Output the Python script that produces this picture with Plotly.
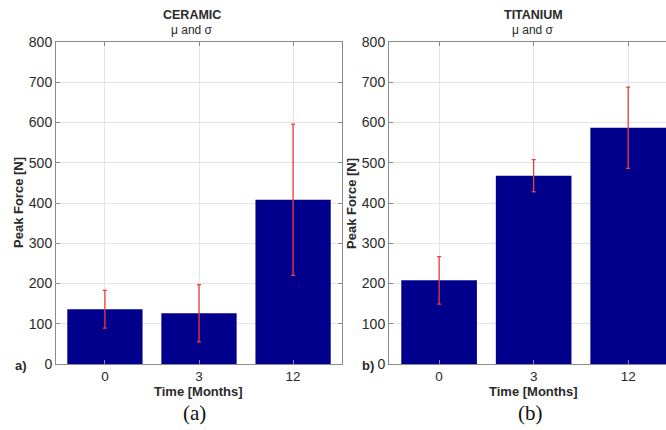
import plotly.graph_objects as go

# ---- data ----
months = ["0", "3", "12"]
ceramic_mean = [136, 126, 408]
ceramic_std = [47, 71, 188]
titanium_mean = [208, 468, 587]
titanium_std = [59, 40, 101]
y_ticks = [0, 100, 200, 300, 400, 500, 600, 700, 800]

W, H = 666, 430
BAR = "#00008C"
ERR = "#F03C3C"
GRID = "#E3E3E3"
AX = "#8A8A8A"
TXT = "#2A2A2A"


def px(x):
    return x / W


def py(y):
    return 1 - y / H


fig = go.Figure()
fig.add_trace(go.Bar(
    x=months, y=ceramic_mean, width=0.8, marker=dict(color=BAR, line=dict(width=0)),
    error_y=dict(type="data", array=ceramic_std, color=ERR, thickness=1.3, width=2),
    xaxis="x", yaxis="y", showlegend=False))
fig.add_trace(go.Bar(
    x=months, y=titanium_mean, width=0.8, marker=dict(color=BAR, line=dict(width=0)),
    error_y=dict(type="data", array=titanium_std, color=ERR, thickness=1.3, width=2),
    xaxis="x2", yaxis="y2", showlegend=False))

ydom = [py(364), py(42)]
tickfont = dict(family="Liberation Sans, Arial", size=14, color=TXT)
common_x = dict(type="category", showgrid=True, gridcolor=GRID, showline=True,
                linecolor=AX, linewidth=1, ticks="inside", ticklen=4, tickcolor=AX,
                tickfont=dict(tickfont, size=13.5), zeroline=False, automargin=False)
common_y = dict(range=[0, 800], tickvals=y_ticks, showgrid=True, gridcolor=GRID,
                showline=True, linecolor=AX, linewidth=1, ticks="inside", ticklen=4,
                tickcolor=AX, tickfont=tickfont, zeroline=False, automargin=False)

fig.update_layout(
    width=W, height=H, margin=dict(l=0, r=0, t=0, b=0, autoexpand=False),
    paper_bgcolor="white", plot_bgcolor="white",
    xaxis=dict(common_x, domain=[px(56), px(342)], range=[-0.52, 2.52], anchor="y",
               mirror="ticks"),
    yaxis=dict(common_y, domain=ydom, anchor="x", mirror="ticks"),
    xaxis2=dict(common_x, domain=[px(389), 1.0], range=[-0.53, 2.40], anchor="y2",
                mirror="ticks"),
    yaxis2=dict(common_y, domain=ydom, anchor="x2", mirror=False),
    bargap=0.2,
)

ann = []
bold = dict(family="Liberation Sans, Arial", size=13, color=TXT)


def add(text, x, y, font, angle=0):
    ann.append(dict(text=text, x=px(x), y=py(y), xref="paper", yref="paper",
                    showarrow=False, font=font, textangle=angle,
                    xanchor="center", yanchor="middle"))


for cx, name in [(192, "CERAMIC"), (533, "TITANIUM")]:
    add("<b>%s</b>" % name, cx, 15, dict(family="Liberation Sans, Arial", size=12.5, color=TXT))
    add("μ and σ", cx, 30, dict(family="Liberation Sans, Arial", size=12, color=TXT))

add("<b>Peak Force [N]</b>", 18, 203, bold, -90)
add("<b>Peak Force [N]</b>", 351, 203, bold, -90)
add("<b>Time [Months]</b>", 198, 391, bold)
add("<b>Time [Months]</b>", 533, 391, bold)
add("<b>a)</b>", 21, 365, bold)
add("<b>b)</b>", 368, 365, bold)
serif = dict(family="Liberation Serif, Times New Roman", size=21, color="#111")
add("(a)", 194, 413, serif)
add("(b)", 530, 413, serif)

fig.update_layout(annotations=ann)
fig.write_html("out.html", config={"displayModeBar": False},
               post_script="document.body.style.margin='0';document.body.style.overflow='hidden';")
